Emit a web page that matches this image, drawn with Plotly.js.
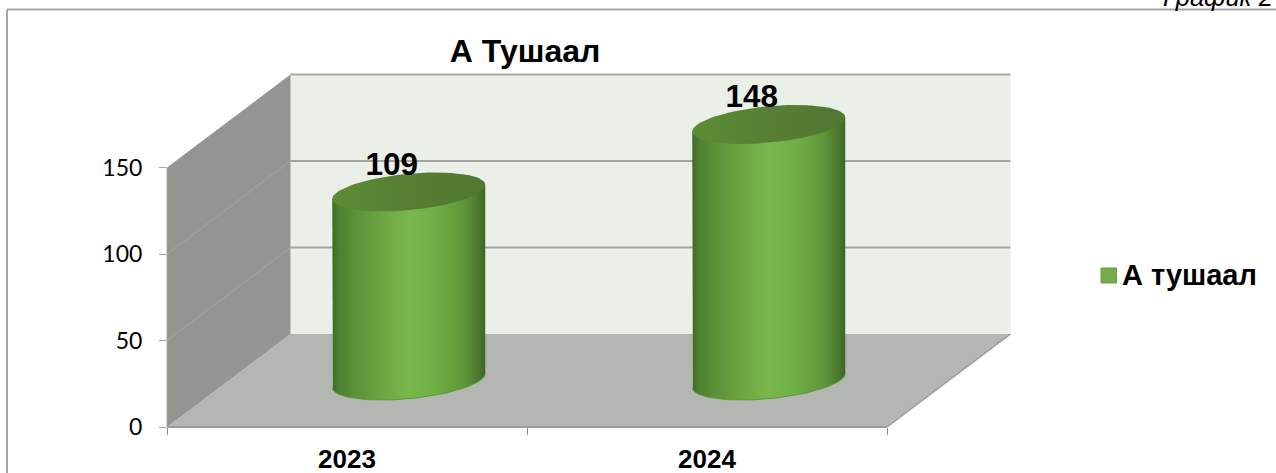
<!DOCTYPE html>
<html><head><meta charset="utf-8">
<script src="https://cdn.plot.ly/plotly-3.0.1.min.js"></script>
<style>html,body{margin:0;padding:0;background:#fff;overflow:hidden}#c{width:1276px;height:473px}</style>
</head><body><div id="c"></div>
<script>
const categories = ['2023','2024'];
const seriesName = 'А тушаал';
const values = [109,148];
const yTicks = [0,50,100,150];
const chartTitle = 'А Тушаал';
const cornerNote = 'График 2';

// layout constants (pixels)
const W=1276,H=473,L=167,R=887,T=167.5,B=427;
const pxPerCat=(R-L)/2, pxPerVal=(B-T)/150;
const depthX=123.5/pxPerCat, depthY=93/pxPerVal;
const halfW=76.5/pxPerCat, tilt=7/pxPerVal, minor=18.2/pxPerVal;
const yMax=yTicks[yTicks.length-1];
const xMin=-0.5,xMax=1.5;

function poly(pts,fill,extra){return Object.assign({type:'scatter',mode:'lines',xaxis:'x2',yaxis:'y2',x:pts.map(p=>p[0]),y:pts.map(p=>p[1]),fill:'toself',fillcolor:fill,line:{width:0},hoverinfo:'skip',showlegend:false},extra||{});}
function seg(a,b,color,width){return {type:'scatter',mode:'lines',xaxis:'x2',yaxis:'y2',x:[a[0],b[0]],y:[a[1],b[1]],line:{color:color,width:width},hoverinfo:'skip',showlegend:false};}
function ell(cx,cy,t){return [cx+halfW*Math.cos(t), cy+tilt*Math.cos(t)+minor*Math.sin(t)];}

const traces=[];
// anchoring trace for the category axis
traces.push({type:'bar',x:categories,y:values,marker:{color:'rgba(0,0,0,0)'},hoverinfo:'skip',showlegend:false});
// legend entry (its swatch is the shape below)
traces.push({type:'scatter',mode:'markers',x:[categories[0]],y:[null],name:seriesName,marker:{symbol:'square',size:1,color:'rgba(0,0,0,0)'}});
// walls
traces.push(poly([[xMin,0],[xMin+depthX,depthY],[xMax+depthX,depthY],[xMax,0]],'#b3b6b1'));
traces.push(poly([[xMin+depthX,depthY],[xMin+depthX,yMax+depthY],[xMax+depthX,yMax+depthY],[xMax+depthX,depthY]],'#eaefe8'));
traces.push(poly([[xMin,0],[xMin,yMax],[xMin+depthX,yMax+depthY],[xMin+depthX,depthY]],'#929590'));
yTicks.slice(1,-1).forEach(v=>{
  traces.push(seg([xMin,v],[xMin+depthX,v+depthY],'#a4a6a2',1));
  traces.push(seg([xMin+depthX,v+depthY],[xMax+depthX,v+depthY],'#a3a5a2',2));
});
traces.push(seg([xMin+depthX,yMax+depthY],[xMax+depthX,yMax+depthY],'#a6a8a5',2));
traces.push(seg([xMax,0],[xMax+depthX,depthY],'#9a9c99',1.5));
traces.push(seg([xMin,0],[xMin,yMax],'#a6a6a6',1));
traces.push(seg([xMin,0],[xMax,0],'#9c9e9b',2));
// cylinders
const bodyScale=[[0,'#3f6b25'],[0.04,'#4b7d2e'],[0.14,'#5b9139'],[0.36,'#6fa944'],[0.5,'#79b84c'],[0.68,'#6fae45'],[0.86,'#5f9639'],[0.95,'#4b7a2c'],[1,'#3e6723']];
values.forEach((v,i)=>{
  const cx=i+depthX/2, base=depthY/2, top=v+depthY/2;
  const pts=[];
  pts.push(ell(cx,top,Math.PI));
  for(let k=0;k<=48;k++){pts.push(ell(cx,base,Math.PI+k/48*Math.PI));}
  pts.push(ell(cx,top,0));
  traces.push(poly(pts,'#74ad4a',{fillgradient:{type:'horizontal',colorscale:bodyScale}}));
  const rim=[];for(let k=0;k<=48;k++){rim.push(ell(cx,base,Math.PI+k/48*Math.PI));}
  traces.push({type:'scatter',mode:'lines',xaxis:'x2',yaxis:'y2',x:rim.map(p=>p[0]),y:rim.map(p=>p[1]),line:{color:'#5f9a3a',width:1},hoverinfo:'skip',showlegend:false});
  const cap=[];for(let k=0;k<=96;k++){cap.push(ell(cx,top,k/96*2*Math.PI));}
  traces.push(poly(cap,'#567f33',{fillgradient:{type:'horizontal',colorscale:[[0,'#5c8c36'],[0.5,'#567f33'],[1,'#507731']]}}));
});
// data labels, drawn last so they sit above gridlines and caps
values.forEach((v,i)=>{
  traces.push({type:'scatter',mode:'text',xaxis:'x2',yaxis:'y2',x:[i+depthX/2-17/pxPerCat],y:[v+depthY/2+25/pxPerVal],text:[String(v)],textposition:'middle center',textfont:{family:'Liberation Sans',size:31.5,color:'#000',weight:700},hoverinfo:'skip',showlegend:false});
});
const frame='#a6a6a6';
const px=x=>x/W, py=y=>1-y/H;
const layout={
  width:W,height:H,paper_bgcolor:'#fff',plot_bgcolor:'rgba(0,0,0,0)',
  margin:{l:0,r:0,t:0,b:0,pad:0,autoexpand:false},
  title:{text:'<b>'+chartTitle+'</b>',font:{family:'Liberation Sans',size:32,color:'#000'},x:525/W,xanchor:'center',y:1-51/H,yanchor:'middle'},
  showlegend:true,
  legend:{x:px(1082),y:py(274),xanchor:'left',yanchor:'middle',font:{family:'Liberation Sans',size:29,color:'#000',weight:700},bgcolor:'rgba(0,0,0,0)',itemwidth:30,itemclick:false,itemdoubleclick:false},
  xaxis:{domain:[L/W,R/W],anchor:'y',type:'category',categoryorder:'array',categoryarray:categories,range:[xMin,xMax],tickson:'boundaries',ticks:'outside',ticklen:7,tickcolor:'#8f8f8f',tickwidth:1,showgrid:false,zeroline:false,showline:false,fixedrange:true,tickfont:{family:'Liberation Sans',size:26,color:'#000',weight:700},ticklabelstandoff:14},
  yaxis:{domain:[1-B/H,1-T/H],anchor:'x',range:[0,yMax],tickvals:yTicks,ticks:'outside',ticklen:7,tickcolor:'#a6a6a6',tickwidth:1,showgrid:false,zeroline:false,showline:false,fixedrange:true,tickfont:{family:'Lato',size:23,color:'#000'},ticklabelstandoff:12},
  xaxis2:{domain:[0,1],anchor:'y2',range:[xMin-L/pxPerCat,xMin+(W-L)/pxPerCat],visible:false,fixedrange:true},
  yaxis2:{domain:[0,1],anchor:'x2',range:[(B-H)/pxPerVal,B/pxPerVal],visible:false,fixedrange:true},
  shapes:[
    {type:'line',xref:'paper',yref:'paper',x0:px(7),x1:px(7),y0:py(9.5),y1:py(473),line:{color:frame,width:2}},
    {type:'line',xref:'paper',yref:'paper',x0:px(7),x1:px(1276),y0:py(9.5),y1:py(9.5),line:{color:frame,width:2}},
    {type:'rect',xref:'paper',yref:'paper',x0:px(1101),x1:px(1116.5),y0:py(283),y1:py(268),fillcolor:'#74ad4a',line:{color:'#6b9e45',width:1}}
  ],
  annotations:[{xref:'paper',yref:'paper',x:px(1275),y:py(-3),xanchor:'right',yanchor:'middle',showarrow:false,text:'<i>'+cornerNote+'</i>',font:{family:'Liberation Sans',size:25.5,color:'#000'}}]
};
Plotly.newPlot('c',traces,layout,{displayModeBar:false,staticPlot:true});
</script></body></html>
